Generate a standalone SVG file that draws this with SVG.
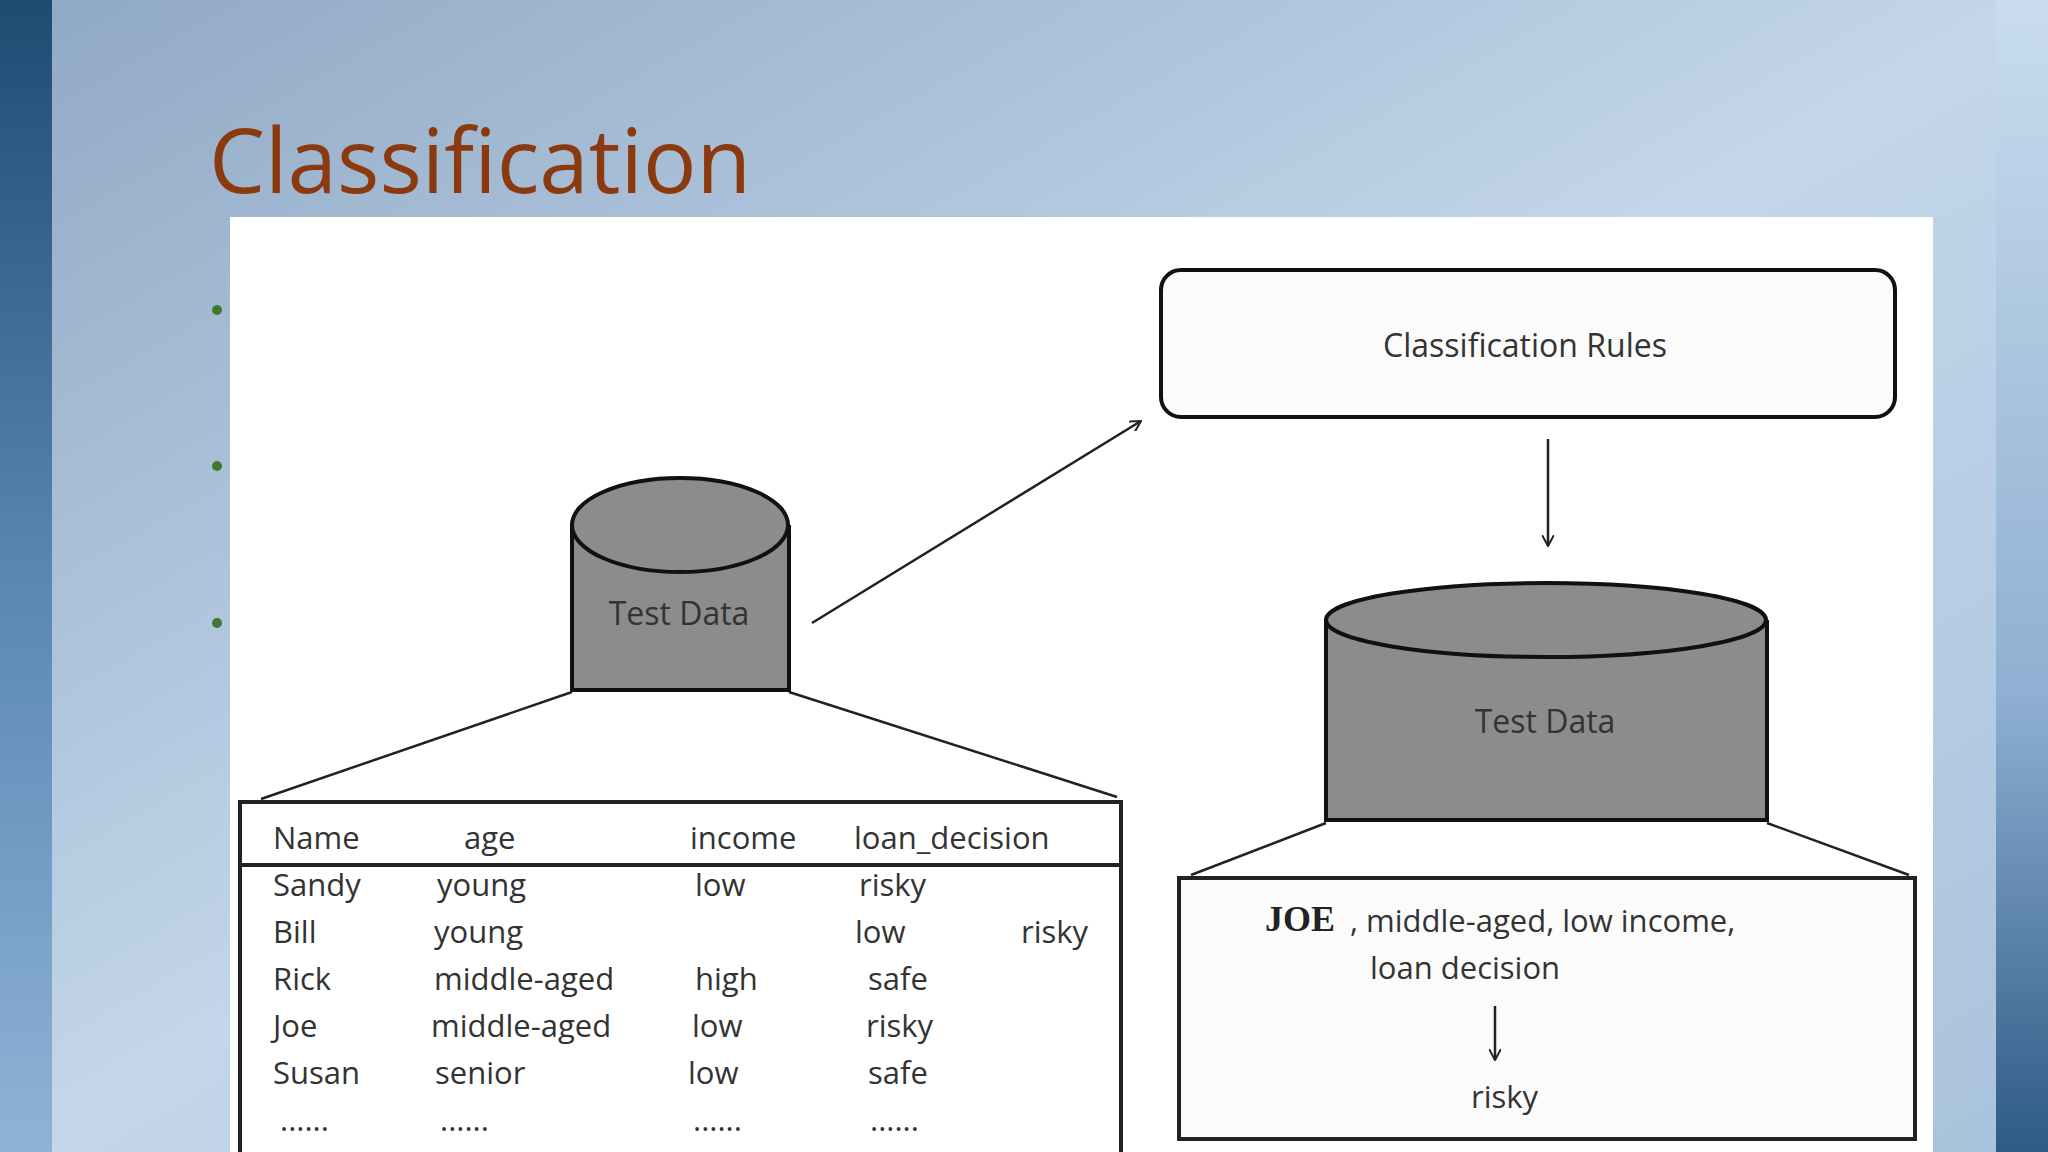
<svg xmlns="http://www.w3.org/2000/svg" width="2048" height="1152" viewBox="0 0 2048 1152">
<defs>
<linearGradient id="bg" x1="0" y1="0" x2="1" y2="1">
<stop offset="0" stop-color="#8fa8c4"/><stop offset="0.5" stop-color="#c3d6ea"/><stop offset="1" stop-color="#a9c2dc"/>
</linearGradient>
<linearGradient id="bar" x1="0" y1="0" x2="0" y2="1">
<stop offset="0" stop-color="#1f4a72"/><stop offset="0.5" stop-color="#5a86b4"/><stop offset="1" stop-color="#8fb3d6"/>
</linearGradient>
<linearGradient id="bar2" x1="0" y1="0" x2="0" y2="1">
<stop offset="0" stop-color="#c9dcee"/><stop offset="0.6" stop-color="#8fb0d2"/><stop offset="1" stop-color="#2e5a86"/>
</linearGradient>
<marker id="ah" viewBox="0 0 12 12" refX="11" refY="6" markerWidth="12" markerHeight="12" markerUnits="userSpaceOnUse" orient="auto">
<path d="M0,0 L11,6 L0,12" fill="none" stroke="#222" stroke-width="2"/>
</marker>
<style>
text{font-family:"Open Sans","Liberation Sans",sans-serif;fill:#333;}
.t{font-size:31px;}
.c{font-size:32px;text-anchor:middle;}
.ln{stroke:#222;stroke-width:2.5;fill:none;}
.cyl{fill:#8c8c8c;stroke:#111;stroke-width:4;}
</style>
</defs>
<rect width="2048" height="1152" fill="url(#bg)"/>
<rect width="52" height="1152" fill="url(#bar)"/>
<rect x="1996" width="52" height="1152" fill="url(#bar2)"/>
<text x="209" y="193" style="font-size:89px;fill:#8b3a10;font-family:'Open Sans','Liberation Sans',sans-serif">Classification</text>
<g fill="#3d7a2e"><circle cx="217" cy="310" r="5"/><circle cx="217" cy="466" r="5"/><circle cx="217" cy="623" r="5"/></g>
<rect x="230" y="217" width="1703" height="935" fill="#fff"/>
<g id="rules"><rect x="1161" y="270" width="734" height="147" rx="20" fill="#fbfbfb" stroke="#111" stroke-width="4"/>
<text class="c" x="1525" y="357">Classification Rules</text></g>
<g id="cyl1"><path class="cyl" d="M572,525 V690 H789 V525"/><ellipse class="cyl" cx="680" cy="525" rx="108" ry="47"/>
<text class="c" x="679" y="625">Test Data</text></g>
<g id="cyl2"><path class="cyl" d="M1326,620 V820 H1767 V620"/><ellipse class="cyl" cx="1546" cy="620" rx="220" ry="37"/>
<text class="c" x="1545" y="733">Test Data</text></g>
<g id="table"><rect x="240" y="802" width="881" height="360" fill="#fff" stroke="#222" stroke-width="4"/>
<line x1="240" y1="865" x2="1121" y2="865" stroke="#222" stroke-width="4"/>
<g class="t">
<text x="273" y="849">Name</text><text x="464" y="849">age</text><text x="690" y="849">income</text><text x="854" y="849">loan_decision</text>
<text x="273" y="896">Sandy</text><text x="437" y="896">young</text><text x="695" y="896">low</text><text x="859" y="896">risky</text>
<text x="273" y="943">Bill</text><text x="434" y="943">young</text><text x="855" y="943">low</text><text x="1021" y="943">risky</text>
<text x="273" y="990">Rick</text><text x="434" y="990">middle-aged</text><text x="695" y="990">high</text><text x="868" y="990">safe</text>
<text x="273" y="1037">Joe</text><text x="431" y="1037">middle-aged</text><text x="692" y="1037">low</text><text x="866" y="1037">risky</text>
<text x="273" y="1084">Susan</text><text x="435" y="1084">senior</text><text x="688" y="1084">low</text><text x="868" y="1084">safe</text>
<text x="280" y="1131">......</text><text x="440" y="1131">......</text><text x="693" y="1131">......</text><text x="870" y="1131">......</text>
</g></g>
<g id="result"><rect x="1179" y="878" width="736" height="261" fill="#fbfbfb" stroke="#222" stroke-width="4"/>
<text x="1265" y="931" style="font-family:'Liberation Serif',serif;font-weight:bold;font-size:36px;fill:#222">JOE</text>
<text class="t" x="1350" y="932">, middle-aged, low income,</text>
<text class="t" x="1370" y="979">loan decision</text>
<text class="t" x="1471" y="1108">risky</text></g>
<g id="connectors">
<line class="ln" x1="812" y1="623" x2="1141" y2="421" marker-end="url(#ah)"/>
<line class="ln" x1="1548" y1="439" x2="1548" y2="546" marker-end="url(#ah)"/>
<line class="ln" x1="1495" y1="1006" x2="1495" y2="1060" marker-end="url(#ah)"/>
<line class="ln" x1="572" y1="692" x2="261" y2="799"/>
<line class="ln" x1="789" y1="692" x2="1117" y2="797"/>
<line class="ln" x1="1326" y1="823" x2="1191" y2="875"/>
<line class="ln" x1="1767" y1="823" x2="1909" y2="875"/>
</g>
</svg>
